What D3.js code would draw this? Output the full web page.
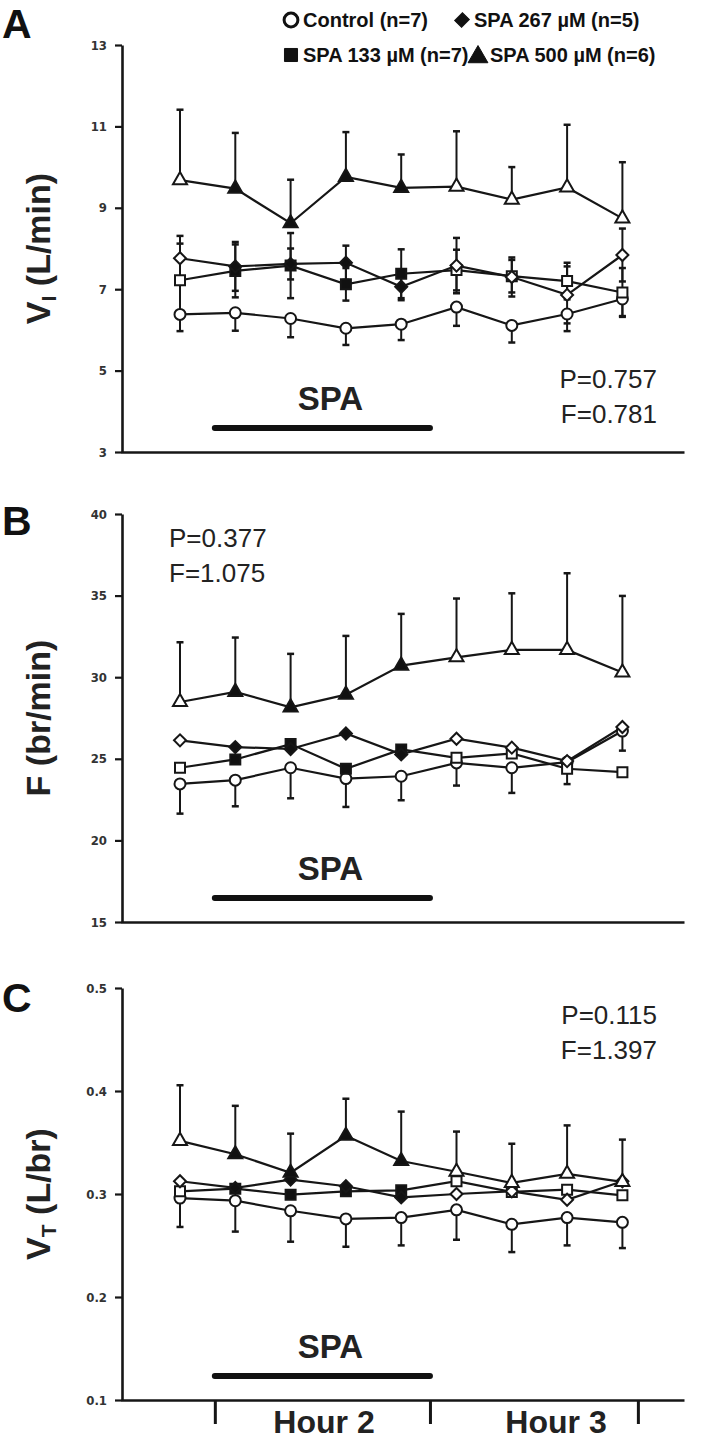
<!DOCTYPE html>
<html><head><meta charset="utf-8">
<script src="https://cdn.jsdelivr.net/npm/d3@7"></script>
<style>
body{margin:0;background:#fff}
svg{display:block}
text{font-family:"Liberation Sans",Arial,sans-serif}
</style>
</head><body>
<svg id="c" width="707" height="1445"></svg>
<script>
// ---------- data ----------
const timePoints = [0,1,2,3,4,5,6,7,8];
const spaIdx = [1,2,3,4];                 // filled markers during SPA infusion
const hourLabels = ["Hour 2","Hour 3"];
const hourTicks = [0.63, 4.52, 8.28];     // boundaries in time-point units
const seriesNames = ["Control (n=7)","SPA 133 µM (n=7)","SPA 267 µM (n=5)","SPA 500 µM (n=6)"];

// Panel A: VI (L/min)
const ctrlA    = [6.38, 6.42, 6.28, 6.04, 6.14, 6.56, 6.11, 6.39, 6.76];
const ctrlAErr = [0.41, 0.44, 0.46, 0.41, 0.39, 0.46, 0.42, 0.42, 0.42];
const s133A    = [7.22, 7.45, 7.58, 7.12, 7.38, 7.47, 7.32, 7.20, 6.92];
const s133AErr = [0.90, 0.65, 0.80, 0.40, 0.60, 0.50, 0.40, 0.45, 0.60];
const s267A    = [7.76, 7.56, 7.62, 7.65, 7.06, 7.58, 7.30, 6.86, 7.84];
const s267AErr = [0.55, 0.60, 0.38, 0.42, 0.33, 0.68, 0.48, 0.70, 0.65];
const s500A    = [9.68, 9.47, 8.62, 9.76, 9.49, 9.52, 9.20, 9.50, 8.74];
const s500AErr = [1.73, 1.37, 1.07, 1.10, 0.82, 1.36, 0.80, 1.54, 1.38];
const ticksA = [3,5,7,9,11,13];

// Panel B: F (br/min)
const ctrlB    = [23.46, 23.69, 24.45, 23.79, 23.93, 24.75, 24.45, 24.80, 26.70];
const ctrlBErr = [1.82, 1.60, 1.87, 1.74, 1.47, 1.39, 1.54, 1.35, 1.20];
const s133B    = [24.45, 24.96, 25.90, 24.39, 25.57, 25.06, 25.33, 24.39, 24.18];
const s267B    = [26.13, 25.72, 25.60, 26.55, 25.27, 26.23, 25.68, 24.86, 26.95];
const s500B    = [28.48, 29.10, 28.15, 28.93, 30.71, 31.22, 31.67, 31.67, 30.29];
const s500BErr = [3.66, 3.33, 3.28, 3.60, 3.17, 3.60, 3.47, 4.70, 4.69];
const ticksB = [15,20,25,30,35,40];

// Panel C: VT (L/br)
const ctrlC    = [0.296, 0.2935, 0.2837, 0.2758, 0.2771, 0.2846, 0.2706, 0.2771, 0.2725];
const ctrlCErr = [0.028, 0.030, 0.030, 0.027, 0.027, 0.029, 0.027, 0.027, 0.025];
const s133C    = [0.3026, 0.3052, 0.2993, 0.3026, 0.3036, 0.3124, 0.3020, 0.3042, 0.2987];
const s267C    = [0.3124, 0.3059, 0.3140, 0.3075, 0.2967, 0.3000, 0.3026, 0.2944, 0.3124];
const s500C    = [0.3516, 0.3386, 0.3206, 0.3565, 0.3320, 0.3216, 0.3108, 0.3196, 0.3118];
const s500CErr = [0.054, 0.047, 0.038, 0.036, 0.048, 0.039, 0.038, 0.047, 0.041];
const ticksC = [0.1,0.2,0.3,0.4,0.5];

const statsA = ["P=0.757","F=0.781"];
const statsB = ["P=0.377","F=1.075"];
const statsC = ["P=0.115","F=1.397"];

// ---------- drawing ----------
const svg = d3.select("#c");
const INK = "#161616";
const x = d3.scaleLinear().domain([0,8]).range([180,622.4]);
const AX_X = 122, AX_RIGHT = 684;
const xAxisScale = d3.scaleLinear().domain([x.invert(AX_X-1), x.invert(AX_RIGHT)]).range([AX_X-1, AX_RIGHT]);

// diamond drawn as a rotated square
const shapes = [d3.symbolCircle, d3.symbolSquare, d3.symbolSquare, d3.symbolTriangle];
const rot    = [0, 0, 45, 0];
const sizes  = [95, 100, 72, 85];

function panel(cfg){
  const y = d3.scaleLinear().domain(cfg.domain).range([cfg.bottom, cfg.top]);
  const g = svg.append("g");

  // y axis
  const ya = g.append("g").attr("transform",`translate(${AX_X},0)`)
    .call(d3.axisLeft(y).tickValues(cfg.ticks).tickSize(7).tickSizeOuter(0).tickPadding(8)
      .tickFormat(cfg.fmt));
  ya.select(".domain").attr("stroke",INK).attr("stroke-width",2.6);
  ya.selectAll(".tick line").attr("stroke",INK).attr("stroke-width",2.2);
  ya.selectAll(".tick text").attr("fill","#333").attr("font-size",13).attr("font-weight","bold")
    .style("font-family","'DejaVu Sans Condensed','DejaVu Sans',sans-serif");

  // x axis
  const xa = g.append("g").attr("transform",`translate(0,${cfg.bottom})`)
    .call(d3.axisBottom(xAxisScale).tickValues(cfg.hourAxis ? hourTicks : []).tickSize(cfg.hourAxis?24:0).tickSizeOuter(0).tickFormat(""));
  xa.select(".domain").attr("stroke",INK).attr("stroke-width",2.6);
  xa.selectAll(".tick line").attr("stroke",INK).attr("stroke-width",3);
  if(cfg.hourAxis){
    const centers = [324, 556];
    g.selectAll(".hour").data(hourLabels).join("text")
      .attr("x",(d,i)=>centers[i]).attr("y",cfg.bottom+33)
      .attr("text-anchor","middle").attr("font-size",32).attr("font-weight","bold").attr("fill","#222")
      .text(d=>d);
  }

  // y-axis title
  const t = g.append("text")
    .attr("transform",`translate(${cfg.labelX},${(cfg.top+cfg.bottom)/2}) rotate(-90)`)
    .attr("text-anchor","middle").attr("font-size",34).attr("font-weight","bold").attr("fill","#222");
  t.append("tspan").text(cfg.label[0]);
  if(cfg.label[1]){
    t.append("tspan").attr("font-size",21).attr("dy",6).text(cfg.label[1]);
    t.append("tspan").attr("dy",-6).text(cfg.label[2]);
  } else {
    t.append("tspan").text(cfg.label[2]);
  }

  // panel letter
  g.append("text").attr("x",2).attr("y",cfg.letterY).attr("font-size",41).attr("font-weight","bold")
    .attr("fill","#111").text(cfg.letter);

  // SPA bar
  g.append("line").attr("x1",xAxisScale(hourTicks[0])).attr("x2",xAxisScale(hourTicks[1]))
    .attr("y1",cfg.bottom-24).attr("y2",cfg.bottom-24)
    .attr("stroke","#111").attr("stroke-width",6).attr("stroke-linecap","round");
  g.append("text").attr("x",(xAxisScale(hourTicks[0])+xAxisScale(hourTicks[1]))/2+8).attr("y",cfg.bottom-42)
    .attr("text-anchor","middle").attr("font-size",33).attr("font-weight","bold").attr("fill","#222").text("SPA");

  // stats
  g.selectAll(".stat").data(cfg.stats).join("text")
    .attr("x",cfg.statX).attr("y",(d,i)=>cfg.statY + i*35)
    .attr("text-anchor",cfg.statAnchor)
    .attr("font-size",26).attr("fill","#222").text(d=>d);

  // series
  const line = d3.line().x((d,i)=>x(timePoints[i])).y(d=>y(d));
  cfg.series.forEach((s,k)=>{
    const sg = g.append("g");
    if(s.err){
      s.vals.forEach((v,i)=>{
        const e = s.err[i]; if(e==null) return;
        const ends = s.dir==="up" ? [v+e] : s.dir==="down" ? [v-e] : [v+e, v-e];
        ends.forEach(end=>{
          sg.append("line").attr("x1",x(i)).attr("x2",x(i)).attr("y1",y(v)).attr("y2",y(end))
            .attr("stroke",INK).attr("stroke-width",2);
          sg.append("line").attr("x1",x(i)-3.5).attr("x2",x(i)+3.5).attr("y1",y(end)).attr("y2",y(end))
            .attr("stroke",INK).attr("stroke-width",2.5);
        });
      });
    }
  });
  cfg.series.forEach((s,k)=>{
    g.append("path").datum(s.vals).attr("d",line).attr("fill","none").attr("stroke",INK).attr("stroke-width",2.2);
  });
  cfg.series.forEach((s,k)=>{
    g.append("g").selectAll("path").data(s.vals).join("path")
      .attr("transform",(d,i)=>`translate(${x(timePoints[i])},${y(d)}) rotate(${rot[k]})`)
      .attr("d",d3.symbol().type(shapes[k]).size(sizes[k]))
      .attr("fill",(d,i)=> (k>0 && spaIdx.includes(i)) ? "#111" : "#fff")
      .attr("stroke",INK).attr("stroke-width",2);
  });
}

panel({letter:"A",letterY:38,top:45,bottom:452,domain:[3,13],ticks:ticksA,fmt:d3.format("d"),
  label:["V","I"," (L/min)"],labelX:50,stats:statsA,statX:657,statAnchor:"end",statY:388,
  series:[{vals:ctrlA,err:ctrlAErr,dir:"down"},{vals:s133A,err:s133AErr,dir:"both"},
          {vals:s267A,err:s267AErr,dir:"both"},{vals:s500A,err:s500AErr,dir:"up"}]});
panel({letter:"B",letterY:535,top:514,bottom:922,domain:[15,40],ticks:ticksB,fmt:d3.format("d"),
  label:["F",null," (br/min)"],labelX:50,stats:statsB,statX:169,statAnchor:"start",statY:547,
  series:[{vals:ctrlB,err:ctrlBErr,dir:"down"},{vals:s133B},{vals:s267B},{vals:s500B,err:s500BErr,dir:"up"}]});
panel({letter:"C",letterY:1012,top:988,bottom:1400,domain:[0.1,0.5],ticks:ticksC,fmt:d3.format(".1f"),hourAxis:true,
  label:["V","T"," (L/br)"],labelX:50,stats:statsC,statX:657,statAnchor:"end",statY:1024,
  series:[{vals:ctrlC,err:ctrlCErr,dir:"down"},{vals:s133C},{vals:s267C},{vals:s500C,err:s500CErr,dir:"up"}]});

// legend
const legendPos = [[291,20],[291,55],[462,20],[478,55]];
const legendTextX = [303,303,474,490];
seriesNames.forEach((n,k)=>{
  const [lx,ly] = legendPos[k];
  svg.append("path").attr("transform",`translate(${lx},${ly + (k===3?2:0)}) rotate(${rot[k]}) scale(${k===2?0.9:1},1)`)
    .attr("d",d3.symbol().type(shapes[k]).size(k===0?150:(k===2?120:170)))
    .attr("fill",k===0?"#fff":"#111").attr("stroke","#111").attr("stroke-width",k===0?3:1);
  svg.append("text").attr("x",legendTextX[k]).attr("y",ly+7).attr("font-size",20).attr("font-weight","bold")
    .attr("fill","#111").text(n);
});
</script>
</body></html>
